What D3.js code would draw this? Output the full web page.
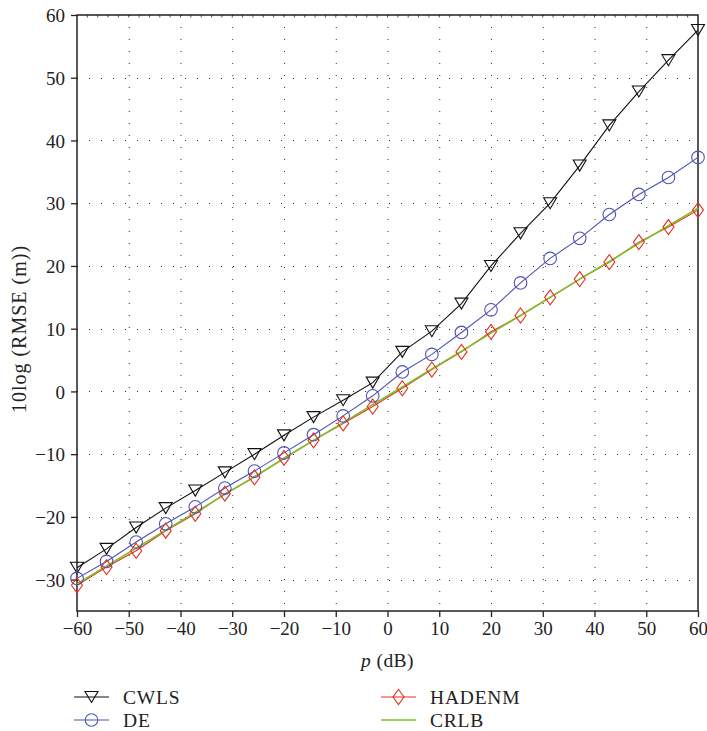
<!DOCTYPE html>
<html><head><meta charset="utf-8">
<script src="https://cdn.jsdelivr.net/npm/d3@7"></script>
<style>body{margin:0;background:#fff}svg{display:block}</style>
</head><body>
<svg id="c" width="707" height="731"></svg>
<script>
const pValues = [-60,-54.29,-48.57,-42.86,-37.14,-31.43,-25.71,-20,-14.29,-8.57,-2.86,2.86,8.57,14.29,20,25.71,31.43,37.14,42.86,48.57,54.29,60];
const cwls   = [-28.1,-25.1,-21.7,-18.6,-15.8,-12.9,-10.0,-7.0,-4.1,-1.4,1.4,6.3,9.6,14.0,20.0,25.2,30.0,36.0,42.4,47.8,52.8,57.6];
const de     = [-29.8,-27.1,-24.0,-21.1,-18.4,-15.4,-12.7,-9.8,-6.9,-3.9,-0.7,3.1,5.9,9.4,13.0,17.3,21.2,24.4,28.2,31.4,34.1,37.3];
const hadenm = [-30.9,-28.0,-25.4,-22.2,-19.5,-16.3,-13.7,-10.6,-7.8,-5.1,-2.4,0.5,3.5,6.3,9.5,12.1,15.0,17.9,20.6,23.8,26.2,28.9];
const crlb   = [-30.7,-27.8,-25.0,-22.1,-19.3,-16.4,-13.6,-10.7,-7.8,-5.0,-2.1,0.7,3.6,6.4,9.3,12.1,15.0,17.9,20.7,23.6,26.4,29.2];
const xTicks = [-60,-50,-40,-30,-20,-10,0,10,20,30,40,50,60];
const yTicks = [-30,-20,-10,0,10,20,30,40,50,60];
const seriesNames = ["CWLS","DE","HADENM","CRLB"];

const colors = {CWLS:"#111111", DE:"#4b52b3", HADENM:"#e5301f", CRLB:"#7fbf2a"};
const font = "'Liberation Serif','Times New Roman',serif";
const svg = d3.select("#c");
const L=77, R=698, T=15, B=611;
const x = d3.scaleLinear().domain([-60,60]).range([L,R]);
const y = d3.scaleLinear().domain([-35,60]).range([B,T]);

// grid
const g = svg.append("g");
g.selectAll("line.gx").data(xTicks.filter(v=>v>-60&&v<60)).join("line")
  .attr("x1",d=>x(d)+0.5).attr("x2",d=>x(d)+0.5).attr("y1",T).attr("y2",B)
  .attr("stroke","#333").attr("stroke-width",1).attr("stroke-dasharray","1,11");
g.selectAll("line.gy").data(yTicks.filter(v=>v<60)).join("line")
  .attr("y1",d=>Math.round(y(d))+0.5).attr("y2",d=>Math.round(y(d))+0.5).attr("x1",L).attr("x2",R)
  .attr("stroke","#333").attr("stroke-width",1).attr("stroke-dasharray","1,11");

// top minor ticks
const minor = d3.range(-58,60,2);
svg.append("g").selectAll("line").data(minor).join("line")
  .attr("x1",d=>x(d)).attr("x2",d=>x(d)).attr("y1",T).attr("y2",T+2.5)
  .attr("stroke","#222").attr("stroke-width",0.8);

// axes
const xAxis = d3.axisBottom(x).tickValues(xTicks).tickSize(6).tickPadding(5)
  .tickFormat(d=>d<0?"\u2212"+Math.abs(d):d);
const yAxis = d3.axisLeft(y).tickValues(yTicks).tickSize(6).tickPadding(6)
  .tickFormat(d=>d<0?"\u2212"+Math.abs(d):d);
const gx = svg.append("g").attr("transform",`translate(0,${B})`).call(xAxis);
const gy = svg.append("g").attr("transform",`translate(${L},0)`).call(yAxis);
[gx,gy].forEach(a=>{
  a.select(".domain").remove();
  a.selectAll("line").attr("stroke","#222").attr("stroke-width",1.3);
  a.selectAll("text").attr("font-family",font).attr("font-size",19).attr("fill","#222");
});
gy.selectAll("text").attr("dy","0.35em");
// frame
svg.append("rect").attr("x",L).attr("y",T).attr("width",R-L).attr("height",B-T)
  .attr("fill","none").attr("stroke","#222").attr("stroke-width",1.5);

// lines
const data = {CWLS:cwls, DE:de, HADENM:hadenm, CRLB:crlb};
const line = d3.line().x((d,i)=>x(pValues[i])).y(d=>y(d));
const order = ["CWLS","DE","HADENM","CRLB"];
order.forEach(n=>{
  svg.append("path").datum(data[n]).attr("d",line).attr("fill","none")
    .attr("stroke",colors[n]).attr("stroke-width",n==="CRLB"?1.6:1.1);
});

function marker(sel, n){
  if(n==="CWLS"){
    sel.append("path").attr("d","M-6.5,-5.5L6.5,-5.5L0,5.5Z").attr("fill","none").attr("stroke",colors[n]).attr("stroke-width",1.1);
  } else if(n==="DE"){
    sel.append("circle").attr("r",6.3).attr("fill","none").attr("stroke",colors[n]).attr("stroke-width",1.1);
  } else if(n==="HADENM"){
    sel.append("path").attr("d","M0,-7.5L5.5,0L0,7.5L-5.5,0Z").attr("fill","none").attr("stroke",colors[n]).attr("stroke-width",1.1);
  }
}
["CWLS","DE","HADENM"].forEach(n=>{
  data[n].forEach((v,i)=>{
    const s = svg.append("g").attr("transform",`translate(${x(pValues[i])},${y(v)})`);
    marker(s,n);
  });
});
// axis labels
svg.append("text").attr("x",(L+R)/2).attr("y",667).attr("text-anchor","middle")
  .attr("font-family",font).attr("font-size",19.5).attr("fill","#222").attr("letter-spacing",0.4)
  .html('<tspan font-style="italic">p</tspan> (dB)');
svg.append("text").attr("transform",`translate(26,${329}) rotate(-90)`).attr("text-anchor","middle")
  .attr("font-family",font).attr("font-size",20).attr("fill","#222").attr("letter-spacing",1)
  .text("10log (RMSE (m))");

// legend
const legPos = {CWLS:[74,697], DE:[74,720], HADENM:[381,697], CRLB:[381,720]};
seriesNames.forEach(n=>{
  const [lx,ly]=legPos[n];
  svg.append("line").attr("x1",lx).attr("x2",lx+35).attr("y1",ly).attr("y2",ly)
    .attr("stroke",colors[n]).attr("stroke-width",n==="CRLB"?1.6:1.1);
  const s = svg.append("g").attr("transform",`translate(${lx+17.5},${ly})`);
  marker(s,n);
  svg.append("text").attr("x",lx+49).attr("y",ly+6.5).attr("font-family",font).attr("font-size",19.5)
    .attr("letter-spacing",0.8).attr("fill","#222").text(n);
});
</script>
</body></html>
